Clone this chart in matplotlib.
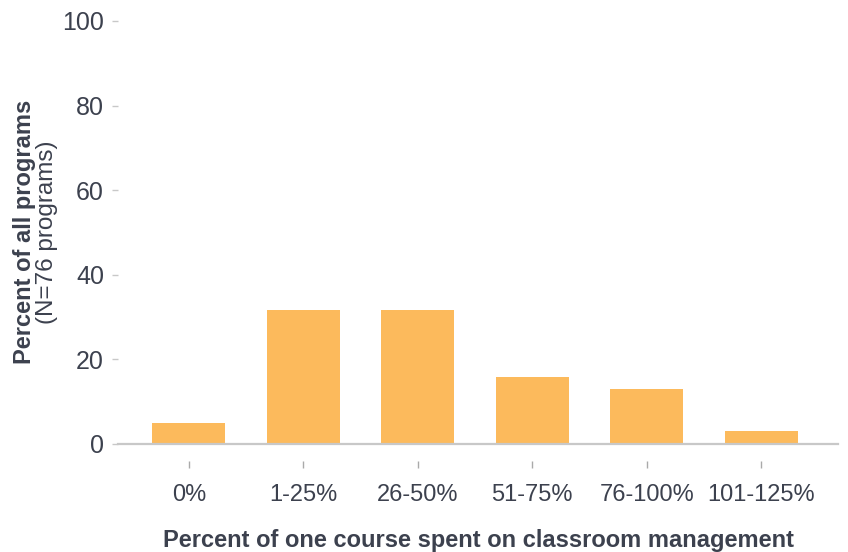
import matplotlib
matplotlib.use("Agg")
import matplotlib.pyplot as plt
import numpy as np

categories = ["0%", "1-25%", "26-50%", "51-75%", "76-100%", "101-125%"]
percent_programs = [5.0, 31.6, 31.6, 15.8, 13.0, 3.0]
y_ticks = [0, 20, 40, 60, 80, 100]

BAR_COLOR = "#fcba5c"
TEXT_COLOR = "#3c414e"
GRID_GREY = "#c8c8c8"

plt.rcParams["font.family"] = ["Liberation Sans", "DejaVu Sans"]

fig = plt.figure(figsize=(8.48, 5.52), dpi=100)
ax = fig.add_axes([0.139, 0.1957, 0.849, 0.7663])

x = np.arange(len(categories))
ax.bar(x, percent_programs, width=0.64, color=BAR_COLOR, zorder=2)
ax.axhline(0, color=GRID_GREY, lw=1.6, zorder=3, clip_on=False)

ax.set_xlim(-0.62, 5.67)
ax.set_ylim(0, 100)
ax.set_yticks(y_ticks)
ax.set_xticks(x)
ax.set_xticklabels(categories)

for sp in ax.spines.values():
    sp.set_visible(False)
ax.spines["bottom"].set_position(("outward", 12))

ax.tick_params(axis="y", length=4, width=1, color=GRID_GREY, pad=6,
               labelsize=18, labelcolor=TEXT_COLOR)
ax.tick_params(axis="x", length=5, width=1, color="#aaaaaa", pad=12,
               labelsize=17, labelcolor=TEXT_COLOR)

fig.text(0.029, 0.58, "Percent of all programs", rotation=90, ha="center",
         va="center", fontsize=17, fontweight="bold", color=TEXT_COLOR)
fig.text(0.055, 0.58, "(N=76 programs)", rotation=90, ha="center",
         va="center", fontsize=17.5, color=TEXT_COLOR)
fig.text(0.564, 0.020, "Percent of one course spent on classroom management",
         ha="center", va="center", fontsize=17, fontweight="bold",
         color=TEXT_COLOR)

fig.savefig("out.png", dpi=100)
